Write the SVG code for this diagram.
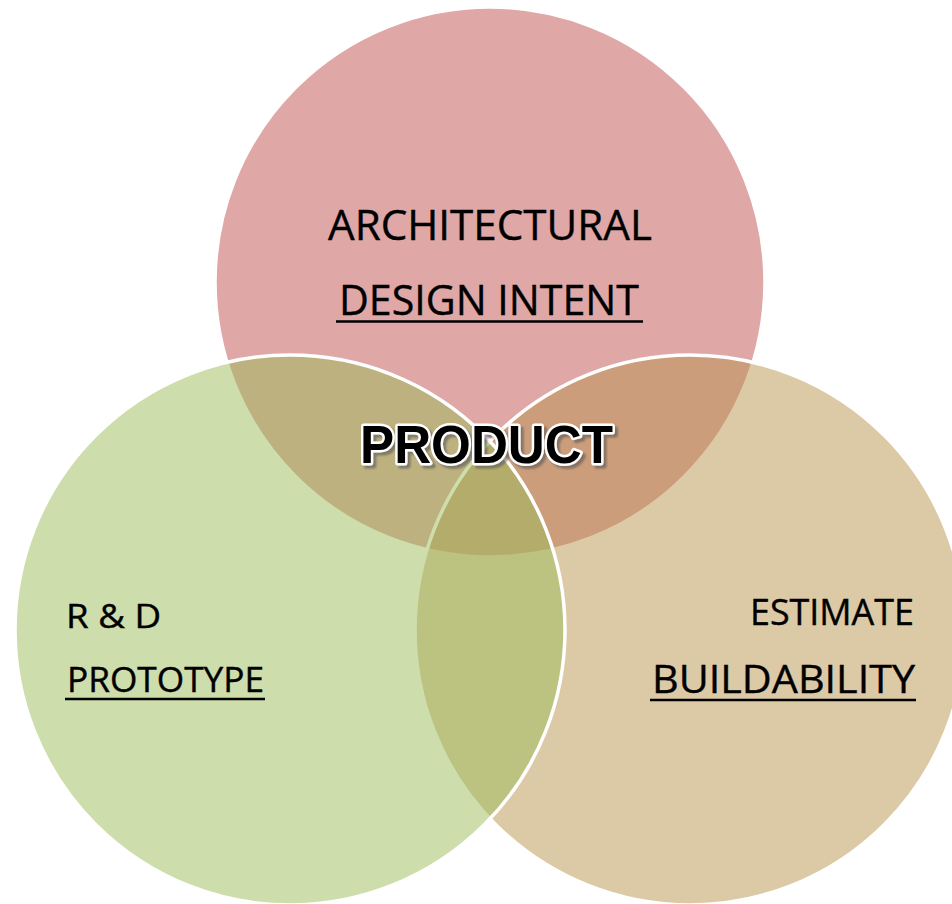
<svg xmlns="http://www.w3.org/2000/svg" width="952" height="904" viewBox="0 0 952 904">
<defs>
<filter id="sh" x="-10%" y="-30%" width="130%" height="170%">
<feDropShadow dx="3" dy="3" stdDeviation="1.2" flood-color="#555555" flood-opacity="0.6"/>
</filter>
</defs>
<style>
.c{stroke:#ffffff;stroke-width:3.5;fill-opacity:0.5}
.t{font-family:"Open Sans","Liberation Sans",sans-serif;fill:#000;stroke:#000;stroke-width:0.4}
.u{stroke:#000;stroke-width:2.5}
.p{font-family:"Liberation Sans","Arial",sans-serif;font-weight:bold;font-size:53px}
</style>
<rect width="952" height="904" fill="#ffffff"/>
<g id="node-design">
<circle class="c" cx="490" cy="282" r="275" fill="#C0504D"/>
</g>
<g id="node-buildability">
<circle class="c" cx="690" cy="630" r="275" fill="#B9944E"/>
</g>
<g id="node-prototype">
<circle class="c" cx="290" cy="630" r="275" fill="#9BBB59"/>
</g>
<g id="labels-design">
<text class="t" x="328" y="240" font-size="42" textLength="324" lengthAdjust="spacingAndGlyphs">ARCHITECTURAL</text>
<text class="t" x="339" y="315" font-size="42" textLength="300" lengthAdjust="spacingAndGlyphs">DESIGN INTENT</text>
<line class="u" x1="336" y1="321.5" x2="643" y2="321.5"/>
</g>
<g id="labels-buildability">
<text class="t" x="750" y="625" font-size="37" textLength="164" lengthAdjust="spacingAndGlyphs">ESTIMATE</text>
<text class="t" x="652" y="693" font-size="39" textLength="263" lengthAdjust="spacingAndGlyphs">BUILDABILITY</text>
<line class="u" x1="650" y1="700" x2="916" y2="700"/>
</g>
<g id="labels-prototype">
<text class="t" x="66" y="628" font-size="33" textLength="95" lengthAdjust="spacingAndGlyphs">R &amp; D</text>
<text class="t" x="67" y="692" font-size="34" textLength="197" lengthAdjust="spacingAndGlyphs">PROTOTYPE</text>
<line class="u" x1="65" y1="699" x2="265" y2="699"/>
</g>
<g id="node-product">
<text class="p" x="360" y="463" textLength="253" lengthAdjust="spacingAndGlyphs" fill="#000" stroke="#ffffff" stroke-width="5" paint-order="stroke" stroke-linejoin="round" filter="url(#sh)">PRODUCT</text>
</g>
</svg>
